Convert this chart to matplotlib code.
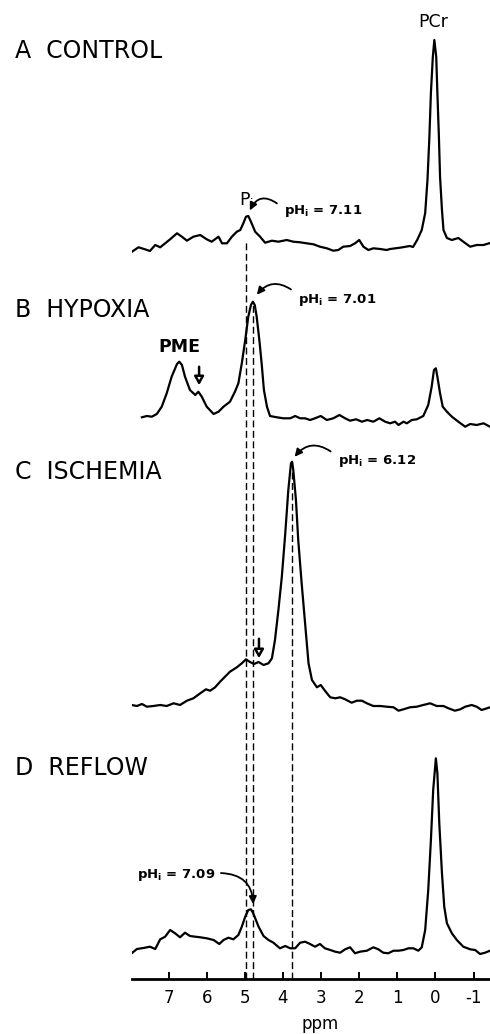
import numpy as np
import matplotlib.pyplot as plt

# 31P NMR spectra, chemical shift (ppm) vs. signal (arbitrary units above baseline)
ctrl_ppm = [7.96, 7.79, 7.62, 7.49, 7.35, 7.22, 7.09, 6.96, 6.78, 6.65, 6.52, 6.35, 6.17, 6.00,
            5.87, 5.69, 5.60, 5.47, 5.34, 5.21, 5.12, 5.04, 4.97, 4.91, 4.84, 4.73, 4.60, 4.47,
            4.29, 4.12, 3.90, 3.73, 3.55, 3.38, 3.20, 3.03, 2.85, 2.68, 2.55, 2.42, 2.24, 2.11,
            2.00, 1.89, 1.76, 1.63, 1.45, 1.28, 1.19, 0.93, 0.67, 0.59, 0.48, 0.36, 0.27, 0.21,
            0.16, 0.12, 0.07, 0.03, -0.02, -0.05, -0.09, -0.12, -0.17, -0.21, -0.30, -0.43,
            -0.60, -0.73, -0.91, -1.08, -1.26, -1.43]
ctrl_int = [-4.7, -0.3, -2.3, -4, 2, -0.3, 3.7, 7.7, 13.7, 10.3, 6.3, 10.3, 12, 7.7,
            5.3, 10.3, 3.7, 3.7, 10.3, 15.3, 17, 23.7, 30.3, 31, 25.3, 15.3, 10.3, 4.3,
            6.3, 5.3, 7, 5.3, 4.7, 3.7, 2.7, 0.3, -1.3, -3.7, -3, 0.3, 1, 3.7,
            7, 0.3, -3, -1.3, -2, -3, -2, -0.7, 1, 0, 7, 17, 34, 67,
            110, 154, 190, 207, 190, 154, 110, 70, 37, 17, 9, 7,
            9, 5.3, 0.3, 2, 2, 4]

hypox_ppm = [7.70, 7.57, 7.44, 7.31, 7.18, 7.05, 6.92, 6.78, 6.72, 6.65, 6.57, 6.44, 6.30, 6.22,
             6.13, 6.00, 5.82, 5.69, 5.56, 5.39, 5.26, 5.17, 5.08, 4.99, 4.91, 4.84, 4.79, 4.74,
             4.69, 4.62, 4.56, 4.50, 4.42, 4.34, 4.16, 3.99, 3.81, 3.68, 3.55, 3.42, 3.29, 3.16,
             3.01, 2.85, 2.68, 2.52, 2.37, 2.24, 2.08, 1.93, 1.79, 1.63, 1.47, 1.32, 1.19, 1.06,
             0.97, 0.84, 0.75, 0.62, 0.49, 0.32, 0.19, 0.10, 0.04, -0.01, -0.05, -0.12, -0.19,
             -0.30, -0.43, -0.60, -0.78, -0.91, -1.08, -1.26, -1.43]
hypox_int = [2.7, 4, 3.3, 6, 13.3, 26.7, 43.3, 56, 58.3, 55, 43.3, 30, 25, 28.3,
             23.3, 13.3, 6, 8.3, 13.3, 18.3, 28.3, 36.7, 56.7, 80, 103.3, 115, 118.3, 115,
             103.3, 80, 56.7, 30, 13.3, 4, 2.7, 1.7, 1.7, 4, 1.7, 1.7, 0, 1.7,
             4, 0, 1.7, 5, 1.7, -0.7, 0.7, -1.7, 0, -1.7, 1.7, -1.7, -3.3, -1.7,
             -5, -1.7, -3.3, 0, 0.7, 4, 15, 33.3, 50, 51.7, 43.3, 26.7, 13.3,
             8.3, 3.3, -1.7, -6.7, -4, -5, -3.3, -6.7]

isch_ppm = [7.97, 7.83, 7.70, 7.57, 7.40, 7.22, 7.05, 6.87, 6.70, 6.52, 6.35, 6.17, 6.02, 5.91,
            5.78, 5.65, 5.52, 5.39, 5.21, 5.08, 4.97, 4.88, 4.76, 4.64, 4.51, 4.38, 4.29, 4.21,
            4.12, 4.03, 3.94, 3.86, 3.79, 3.76, 3.73, 3.66, 3.60, 3.51, 3.42, 3.33, 3.24, 3.11,
            3.01, 2.90, 2.76, 2.63, 2.50, 2.37, 2.20, 2.06, 1.93, 1.80, 1.63, 1.45, 1.28, 1.10,
            0.97, 0.84, 0.67, 0.49, 0.32, 0.14, -0.03, -0.21, -0.34, -0.51, -0.65, -0.78, -0.95,
            -1.08, -1.21, -1.35, -1.43]
isch_int = [1, 0, 2, -0.7, 0, 1, 0, 2.7, 1, 5.3, 7.7, 12.7, 16.7, 15.3,
            18.7, 24.3, 29.3, 34.3, 38.7, 42.7, 46.7, 44.3, 42, 44, 41, 42.7, 47.7, 66,
            96, 129.3, 172.7, 216, 242.7, 244.3, 236, 206, 166, 122.7, 82.7, 42.7, 26, 18.7,
            21, 15.3, 8.7, 7.7, 8.7, 6.7, 3.3, 5.3, 5.3, 2.7, 0, 0, -0.7, -1.3,
            -4.7, -3.3, -1.3, -0.7, 1, 2.7, 0, 0, -2.3, -4.7, -3.3, -0.7, 1,
            -0.7, -4, -2.3, -1.3]

reflow_ppm = [7.97, 7.83, 7.66, 7.49, 7.35, 7.22, 7.09, 6.96, 6.83, 6.70, 6.57, 6.44, 6.30, 6.17,
              6.00, 5.82, 5.67, 5.56, 5.43, 5.30, 5.17, 5.08, 4.99, 4.91, 4.84, 4.78, 4.64, 4.51,
              4.38, 4.25, 4.08, 3.94, 3.81, 3.68, 3.55, 3.42, 3.29, 3.16, 3.03, 2.90, 2.76, 2.63,
              2.50, 2.37, 2.24, 2.11, 1.98, 1.80, 1.63, 1.50, 1.37, 1.24, 1.10, 0.97, 0.84, 0.71,
              0.58, 0.45, 0.36, 0.27, 0.19, 0.12, 0.06, -0.01, -0.05, -0.10, -0.17, -0.23, -0.30,
              -0.43, -0.56, -0.73, -0.91, -1.04, -1.17, -1.30, -1.43]
reflow_int = [-6.3, -2, -1, 0.3, -2, 7.7, 10.3, 17, 13.7, 9.7, 14.3, 11, 10.3, 9.7,
              8.7, 7, 3, 7, 9.3, 7.7, 12, 20.3, 30.3, 37, 37.7, 33.7, 20.3, 11,
              7, 4.3, -1.3, 1, -1.3, -1.3, 4.3, 5.3, 3, 0.3, 3, -1.3, -3, -4.7,
              -5.7, -2.3, -0.3, -6.3, -4.7, -3.7, -0.3, -2.3, -5.7, -6.3, -3.7, -3.7, -3, -1.3,
              -1.3, -3.7, -0.3, 17, 57, 107, 157, 188.7, 173.7, 123.7, 73.7, 40.3, 23.7,
              13.7, 7, 0.3, -2.3, -3, -7, -5.7, -3.7]

panel_titles = ['A  CONTROL', 'B  HYPOXIA', 'C  ISCHEMIA', 'D  REFLOW']
ph_labels = ['pH$_\\mathregular{i}$ = 7.11', 'pH$_\\mathregular{i}$ = 7.01',
             'pH$_\\mathregular{i}$ = 6.12', 'pH$_\\mathregular{i}$ = 7.09']
pi_shift = [4.98, 4.78, 3.76]
tick_vals = [7, 6, 5, 4, 3, 2, 1, 0, -1]
tick_text = ['7', '6', '5', '4', '3', '2', '1', '0', '-1']

W, H = 490, 1034
fig = plt.figure(figsize=(W / 100, H / 100), dpi=100)
ax = fig.add_axes([132 / W, 55 / H, 358 / W, 979 / H])

# stack offsets (vertical layout of the four spectra)
offsets = [732, 559, 273, 32]
traces = [(ctrl_ppm, ctrl_int), (hypox_ppm, hypox_int), (isch_ppm, isch_int), (reflow_ppm, reflow_int)]
for (x, y), off in zip(traces, offsets):
    ax.plot(x, np.array(y) + off, color='black', lw=1.6, solid_joinstyle='round')

# dashed lines from each Pi peak down to the axis
dash_tops = [739, 676, 509]
for s, top in zip(pi_shift, dash_tops):
    ax.plot([s, s], [0, top], color='black', lw=1.0, linestyle=(0, (5, 2.5)))

ax.set_xlim(7.96, -1.43)
ax.set_ylim(0, 979)
ax.set_xticks(tick_vals)
ax.set_xticklabels(tick_text)
ax.tick_params(axis='x', direction='in', length=5, width=1.4, pad=7, labelsize=12)
ax.set_yticks([])
for sp in ['left', 'right', 'top']:
    ax.spines[sp].set_visible(False)
ax.spines['bottom'].set_linewidth(2)
ax.set_xlabel('ppm', fontsize=12)
ax.xaxis.set_label_coords((320 - 132) / 358, -0.037)

# panel titles
title_y = [51, 310, 472, 768]
for t, yy in zip(panel_titles, title_y):
    fig.text(15 / W, 1 - yy / H, t, fontsize=17, va='center', ha='left')

ax.text(0.05, 979 - 22, 'PCr', fontsize=12.5, ha='center', va='center')
ax.text(4.96, 979 - 200, 'P$_\\mathregular{i}$', fontsize=12.5, ha='center', va='center')
ax.text(6.73, 979 - 347, 'PME', fontsize=12.5, ha='center', va='center', fontweight='bold')

# pHi labels with curved arrows
ph_pos = [(3.97, 211), (3.61, 300), (2.56, 461), (7.83, 875)]
for lab, (xx, yy) in zip(ph_labels, ph_pos):
    ax.text(xx, 979 - yy, lab, fontsize=9.5, fontweight='bold', ha='left', va='center')

arr = dict(arrowstyle='-|>,head_length=0.45,head_width=0.22', color='black', lw=1.3)
ax.annotate('', xy=(4.90, 979 - 213), xytext=(4.10, 979 - 205),
            arrowprops=dict(connectionstyle='arc3,rad=0.65', **arr))
ax.annotate('', xy=(4.73, 979 - 297), xytext=(3.73, 979 - 291),
            arrowprops=dict(connectionstyle='arc3,rad=0.5', **arr))
ax.annotate('', xy=(3.74, 979 - 459), xytext=(2.69, 979 - 453),
            arrowprops=dict(connectionstyle='arc3,rad=0.5', **arr))
ax.annotate('', xy=(4.78, 979 - 907), xytext=(5.70, 979 - 873),
            arrowprops=dict(connectionstyle='angle3,angleA=0,angleB=90', **arr))

# open-headed down arrows
down = dict(arrowstyle='-|>,head_length=0.5,head_width=0.28', fc='white', ec='black', lw=1.8)
ax.annotate('', xy=(6.20, 979 - 388), xytext=(6.20, 979 - 364), arrowprops=down)
ax.annotate('', xy=(4.63, 979 - 661), xytext=(4.63, 979 - 636), arrowprops=down)

fig.savefig('out.png', dpi=100)
